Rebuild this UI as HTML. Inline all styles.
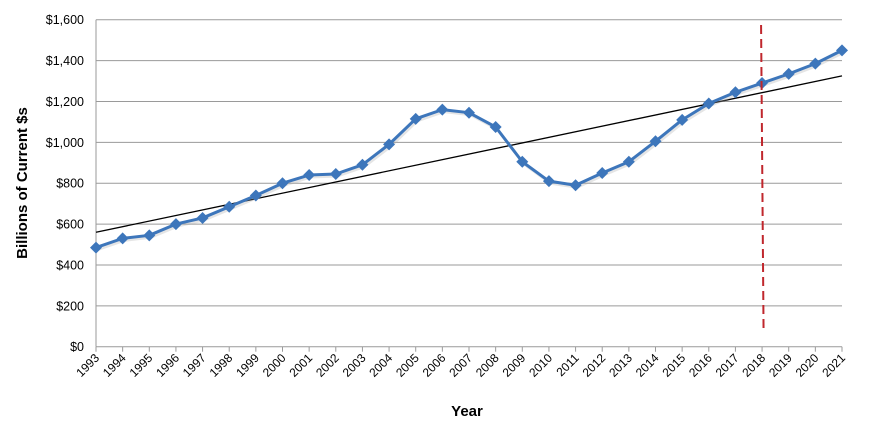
<!DOCTYPE html>
<html><head><meta charset="utf-8"><style>
body{margin:0;background:#fff;}
svg{display:block;font-family:"Liberation Sans",sans-serif;}
</style></head><body>
<svg id="chart" width="870" height="430" viewBox="0 0 870 430">
<g id="grid"></g><g id="axes"></g><g id="series"></g>
<text x="467" y="416" text-anchor="middle" font-size="15" font-weight="bold">Year</text>
<text transform="translate(27,183) rotate(-90)" text-anchor="middle" font-size="15" font-weight="bold">Billions of Current $s</text>
</svg>
<script>
const years=[1993,1994,1995,1996,1997,1998,1999,2000,2001,2002,2003,2004,2005,2006,2007,2008,2009,2010,2011,2012,2013,2014,2015,2016,2017,2018,2019,2020,2021];
const values=[485,530,545,600,630,685,740,800,840,845,890,990,1115,1160,1145,1075,905,810,790,850,905,1005,1110,1190,1245,1290,1335,1385,1450];
const trendStart=560;
const trendEnd=1325;
const yTicks=[0,200,400,600,800,1000,1200,1400,1600];
const yTickLabels=["$0","$200","$400","$600","$800","$1,000","$1,200","$1,400","$1,600"];
const forecastYear=2018;
const NS="http://www.w3.org/2000/svg";
const X0=96,X1=842,Y0=346.7,Y1=19.7;
const xs=i=>X0+(X1-X0)*i/(years.length-1);
const ys=v=>Y0-(Y0-Y1)*v/1600;
function mk(tag,attrs,parent){const e=document.createElementNS(NS,tag);for(const k in attrs)e.setAttribute(k,attrs[k]);parent.appendChild(e);return e;}
const grid=document.getElementById('grid'),axes=document.getElementById('axes'),ser=document.getElementById('series');
yTicks.forEach((t,i)=>{
 const l=mk('line',{x1:X0,x2:X1,y1:ys(t),y2:ys(t),stroke:'#9a9a9a','stroke-width':1},grid);
 
 
 const tx=mk('text',{x:84,y:ys(t)+4.5,'text-anchor':'end','font-size':12.5,fill:'#000'},axes);
 tx.textContent=yTickLabels[i];
 
 
});
const ax=mk('line',{x1:X0,x2:X0,y1:Y1,y2:Y0,stroke:'#9a9a9a'},axes);


years.forEach((y,i)=>{
 const x=xs(i);
 const tk=mk('line',{x1:x,x2:x,y1:Y0,y2:Y0+5,stroke:'#9a9a9a'},axes);
 
 
 const tx=mk('text',{x:x+4,y:Y0+12,'text-anchor':'end','font-size':12,transform:`rotate(-45 ${x+4} ${Y0+12})`},axes);
 tx.textContent=y;
 
 
});
const tr=mk('line',{x1:xs(0),y1:ys(trendStart),x2:xs(years.length-1),y2:ys(trendEnd),stroke:'#000','stroke-width':1.3},ser);


const pts=values.map((v,i)=>xs(i)+','+ys(v)).join(' ');
const sh=mk('polyline',{points:pts,fill:'none',stroke:'#aaa','stroke-opacity':0.3,'stroke-width':3,transform:'translate(1.5,2)'},ser);


const pl=mk('polyline',{points:pts,fill:'none',stroke:'#3d76bb','stroke-width':3,'stroke-linejoin':'round'},ser);


values.forEach((v,i)=>{
 const x=xs(i),y=ys(v);
 const d=mk('polygon',{points:`${x},${y-6} ${x+6},${y} ${x},${y+6} ${x-6},${y}`,fill:'#3d76bb'},ser);
 
 
});
const fi=years.indexOf(forecastYear);
const fx=xs(fi);
const fl=mk('line',{x1:fx-1,y1:25,x2:fx+1.5,y2:332,stroke:'#c0272d','stroke-width':2,'stroke-dasharray':'9,5'},ser);


</script>
</body></html>
